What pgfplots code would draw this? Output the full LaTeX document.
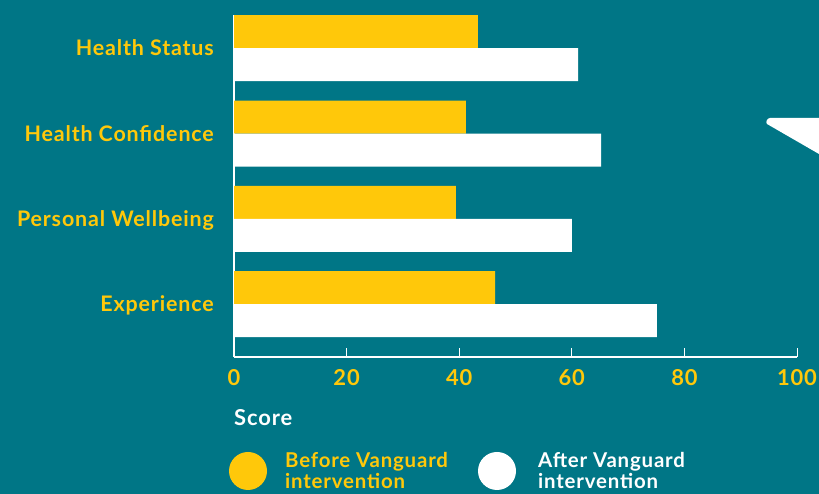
\documentclass[border=0pt]{standalone}
\usepackage{fontspec}
\setmainfont{Lato}[LetterSpace=4]
\usepackage{pgfplots}
\pgfplotsset{compat=1.18}
\definecolor{bg}{RGB}{0,118,134}
\definecolor{yel}{RGB}{255,200,10}
\begin{document}
\begin{tikzpicture}[x=1bp,y=1bp]
\fill[bg] (0,0) rectangle (819,494);
\path[use as bounding box] (0,0) rectangle (819,494);
% decorative shape
\fill[white] (819,376) -- (770,376) to[out=180,in=135] (767,370) -- (819,340) -- cycle;
\begin{axis}[
  at={(234bp,137bp)}, anchor=south west,
  scale only axis, width=563bp, height=342bp,
  xmin=0, xmax=100, ymin=-0.62, ymax=3.39,
  axis x line*=bottom, axis y line*=left,
  axis line style={white, line width=1.1pt, -},
  xtick={0,20,40,60,80,100},
  xtick pos=bottom, tick align=inside,
  major tick length=9bp,
  x tick style={white, line width=1pt},
  ytick={0,1,2,3},
  yticklabels={Experience, Personal Wellbeing, Health Confidence, Health Status},
  y tick style={draw=none},
  yticklabel style={text=yel, font=\fontsize{21.5}{24}\selectfont\bfseries, anchor=base east, inner sep=0pt, xshift=-11bp, yshift=-7.5bp},
  xticklabel style={text=yel, font=\fontsize{22}{24}\selectfont\bfseries, anchor=base, inner sep=0pt, yshift=-29bp},
  /pgf/number format/assume math mode=true,
  xbar, bar width=33bp,
  clip=false,
]
\addplot[fill=yel, draw=none, bar shift=16.5bp] coordinates {(43.3,3) (41.2,2) (39.4,1) (46.4,0)};
\addplot[fill=white, draw=none, bar shift=-16.5bp] coordinates {(61.1,3) (65.2,2) (60.0,1) (75.1,0)};
\end{axis}
\node[anchor=base west, text=white, font=\fontsize{22}{24}\selectfont\bfseries, inner sep=0] at (234,68) {Score};
\fill[yel] (248,23) circle (19);
\fill[white] (497,23) circle (19);
\begin{scope}[every node/.style={anchor=base west, inner sep=0, font=\fontsize{20.5}{22}\selectfont\bfseries}]
\node[text=yel] at (285,26) {Before Vanguard};
\node[text=yel] at (285,5) {intervention};
\node[text=white] at (538,26) {After Vanguard};
\node[text=white] at (538,5) {intervention};
\end{scope}
\end{tikzpicture}
\end{document}
